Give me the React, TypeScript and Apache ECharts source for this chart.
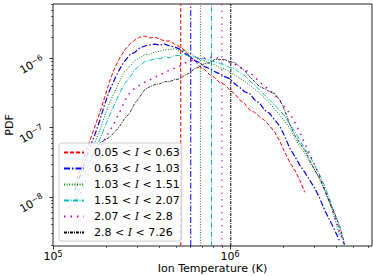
import React, { useEffect, useRef } from "react";
import * as echarts from "echarts";

// Ion temperature bins (K), shared by every curve
const temperatureK = [
  1.33e5, 1.42e5, 1.51e5, 1.61e5, 1.72e5, 1.84e5, 1.96e5, 2.09e5, 2.23e5, 2.38e5,
  2.54e5, 2.71e5, 2.9e5, 3.09e5, 3.3e5, 3.52e5, 3.76e5, 4.01e5, 4.28e5, 4.56e5,
  4.87e5, 5.2e5, 5.55e5, 5.92e5, 6.32e5, 6.74e5, 7.19e5, 7.68e5, 8.19e5, 8.74e5,
  9.33e5, 9.96e5, 1.063e6, 1.134e6, 1.211e6, 1.292e6, 1.379e6, 1.472e6, 1.57e6, 1.676e6,
  1.788e6, 1.909e6, 2.037e6, 2.175e6, 2.32e6, 2.477e6, 2.642e6, 2.82e6, 3.01e6, 3.212e6,
  3.428e6, 3.659e6, 3.904e6, 4.167e6, 4.446e6,
];

// PDF of ion temperature for each range of I
const pdfRange1 = [
  1.48e-8, 2.44e-8, 4.01e-8, 6.39e-8, 1.02e-7, 1.67e-7, 2.76e-7, 4.7e-7, 7.24e-7, 1.01e-6,
  1.32e-6, 1.61e-6, 1.84e-6, 2.03e-6, 2.1e-6, 1.97e-6, 2.03e-6, 1.9e-6, 1.78e-6, 1.78e-6,
  1.61e-6, 1.46e-6, 1.31e-6, 1.06e-6, 9.4e-7, 7.6e-7, 6.9e-7, 5.8e-7, 5.3e-7, 4.45e-7,
  4.2e-7, 3.5e-7, 3.1e-7, 2.52e-7, 2.23e-7, 1.8e-7, 1.66e-7, 1.43e-7, 1.27e-7, 1.06e-7,
  8.62e-8, 6.39e-8, 4.43e-8, 3.18e-8, 2.44e-8, 1.75e-8, 1.17e-8, null, null, null,
  null, null, null, null, null,
];
const pdfRange2 = [
  1.25e-8, 1.99e-8, 3.18e-8, 5.06e-8, 7.8e-8, 1.28e-7, 2.19e-7, 3.48e-7, 5.02e-7, 7.0e-7,
  9.14e-7, 1.12e-6, 1.23e-6, 1.41e-6, 1.51e-6, 1.56e-6, 1.61e-6, 1.56e-6, 1.61e-6, 1.51e-6,
  1.46e-6, 1.36e-6, 1.19e-6, 1.06e-6, 9.3e-7, 8.7e-7, 7.6e-7, 7.1e-7, 6.45e-7, 6.0e-7,
  5.45e-7, 5.1e-7, 4.3e-7, 3.8e-7, 3.3e-7, 3.1e-7, 2.52e-7, 2.24e-7, 1.8e-7, 1.6e-7,
  1.3e-7, 1.05e-7, 7.55e-8, 5.06e-8, 3.88e-8, 2.88e-8, 2.28e-8, 1.75e-8, 1.34e-8, 9.6e-9,
  6.44e-9, 4.61e-9, 3.31e-9, 2.29e-9, null,
];
const pdfRange3 = [
  1.06e-8, 1.63e-8, 2.6e-8, 4.01e-8, 5.98e-8, 9.22e-8, 1.47e-7, 2.34e-7, 3.26e-7, 4.7e-7,
  6.5e-7, 7.6e-7, 9.3e-7, 1.02e-6, 1.14e-6, 1.13e-6, 1.25e-6, 1.26e-6, 1.34e-6, 1.33e-6,
  1.38e-6, 1.3e-6, 1.29e-6, 1.17e-6, 1.09e-6, 9.6e-7, 9.3e-7, 8.4e-7, 8.1e-7, 7.35e-7,
  7.1e-7, 6.34e-7, 5.74e-7, 5.19e-7, 4.7e-7, 4.11e-7, 3.6e-7, 3.15e-7, 2.67e-7, 2.26e-7,
  1.85e-7, 1.52e-7, 1.24e-7, 9.85e-8, 7.06e-8, 5.41e-8, 4.29e-8, 3.18e-8, 2.44e-8, 1.75e-8,
  1.25e-8, 8.4e-9, 4.93e-9, 2.71e-9, null,
];
const pdfRange4 = [
  8.98e-9, 1.34e-8, 2.06e-8, 3.18e-8, 4.74e-8, 6.83e-8, 1.02e-7, 1.52e-7, 2.19e-7, 3.15e-7,
  4.35e-7, 5.25e-7, 6.9e-7, 7.85e-7, 9.0e-7, 9.3e-7, 9.95e-7, 9.9e-7, 1.06e-6, 1.02e-6,
  1.1e-6, 1.1e-6, 1.14e-6, 1.06e-6, 1.05e-6, 9.9e-7, 9.9e-7, 9.3e-7, 8.95e-7, 8.4e-7,
  8.1e-7, 7.35e-7, 7.1e-7, 6.2e-7, 5.65e-7, 4.75e-7, 4.11e-7, 3.48e-7, 2.95e-7, 2.5e-7,
  2.11e-7, 1.79e-7, 1.47e-7, 1.12e-7, 8.91e-8, 6.61e-8, 5.06e-8, 3.88e-8, 2.88e-8, 2.06e-8,
  1.43e-8, 9.29e-9, 5.63e-9, 3.31e-9, 1.94e-9,
];
const pdfRange5 = [
  7.6e-9, 1.06e-8, 1.58e-8, 2.44e-8, 3.63e-8, 5.23e-8, 6.83e-8, 8.91e-8, 1.2e-7, 1.67e-7,
  2.41e-7, 3.15e-7, 3.72e-7, 4.11e-7, 4.54e-7, 4.86e-7, 5.37e-7, 5.74e-7, 6.34e-7, 6.77e-7,
  7.24e-7, 7.74e-7, 8.55e-7, 9.14e-7, 9.77e-7, 1.01e-6, 1.01e-6, 1.04e-6, 1.01e-6, 1.01e-6,
  9.45e-7, 8.84e-7, 8.27e-7, 7.49e-7, 6.77e-7, 6.34e-7, 5.37e-7, 4.54e-7, 3.98e-7, 3.48e-7,
  2.95e-7, 2.5e-7, 1.98e-7, 1.62e-7, 1.2e-7, 8.62e-8, 5.98e-8, 4.15e-8, 2.88e-8, 1.99e-8,
  1.29e-8, 8.4e-9, 5.1e-9, 3.09e-9, 1.94e-9,
];
const pdfRange6 = [
  null, null, null, 3.18e-8, 4.74e-8, 5.98e-8, 6.61e-8, 7.3e-8, 8.62e-8, 1.05e-7,
  1.36e-7, 1.62e-7, 2.25e-7, 2.78e-7, 3.55e-7, 3.9e-7, 4.2e-7, 4.3e-7, 4.62e-7, 4.6e-7,
  4.95e-7, 5.05e-7, 5.7e-7, 6.2e-7, 7.15e-7, 7.55e-7, 8.45e-7, 8.65e-7, 9.65e-7, 9.6e-7,
  9.6e-7, 8.95e-7, 8.7e-7, 7.6e-7, 6.65e-7, 5.45e-7, 4.6e-7, 3.9e-7, 3.65e-7, 3.3e-7,
  3.1e-7, 2.52e-7, 1.79e-7, 1.12e-7, 7.8e-8, 5.98e-8, 4.74e-8, 3.4e-8, 2.44e-8, 1.87e-8,
  1.25e-8, 8.13e-9, 5.83e-9, 3.78e-9, 2.07e-9,
];

// Mean ion temperature of each range (vertical lines)
const meanTemperatureK = [5.27e5, 6.0e5, 6.8e5, 7.86e5, 9.0e5, 1.01e6];

const rangeLabels = [
  "0.05 < I < 0.63",
  "0.63 < I < 1.03",
  "1.03 < I < 1.51",
  "1.51 < I < 2.07",
  "2.07 < I < 2.8",
  "2.8 < I < 7.26",
];

const xMajorTicks = [1e5, 1e6];
const xMinorTicks = [2e5, 3e5, 4e5, 5e5, 6e5, 7e5, 8e5, 9e5, 2e6, 3e6, 4e6, 5e6, 6e6];
const yMajorTicks = [1e-8, 1e-7, 1e-6];
const yMinorTicks = [
  2e-9, 3e-9, 4e-9, 5e-9, 6e-9, 7e-9, 8e-9, 9e-9,
  2e-8, 3e-8, 4e-8, 5e-8, 6e-8, 7e-8, 8e-8, 9e-8,
  2e-7, 3e-7, 4e-7, 5e-7, 6e-7, 7e-7, 8e-7, 9e-7,
  2e-6, 3e-6, 4e-6, 5e-6, 6e-6,
];

const X_MIN = 1e5;
const X_MAX = 6.34e6;
const Y_MIN = 1.96e-9;
const Y_MAX = 6.1e-6;

const styles = [
  { color: "#ff0000", type: [4, 2], width: 1 },
  { color: "#0000ff", type: [6, 2, 1.5, 2], width: 1.2 },
  { color: "#008000", type: [1, 1.6], width: 1 },
  { color: "#00bfbf", type: [5, 1.5, 1, 1.5], width: 1 },
  { color: "#bf00bf", type: [1.5, 5], width: 1.5 },
  { color: "#000000", type: [3, 1, 1, 1], width: 0.8 },
];

const pdfSeries = [pdfRange1, pdfRange2, pdfRange3, pdfRange4, pdfRange5, pdfRange6];

const FONT = "DejaVu Sans";

function powerLabel(v: number): string {
  const e = Math.round(Math.log10(v));
  const exp = e < 0 ? "\u2212" + -e : String(e);
  return `{b|10}{s|${exp}}`;
}

const powerRich = {
  b: { fontFamily: FONT, fontSize: 11, color: "#000", lineHeight: 12 },
  s: { fontFamily: FONT, fontSize: 8, color: "#000", lineHeight: 4, verticalAlign: "top" },
};

function buildOption() {
  const curves = pdfSeries.map((values, i) => {
    const data: [number, number][] = [];
    values.forEach((v, j) => {
      if (v != null && j < temperatureK.length) data.push([temperatureK[j], v]);
    });
    const st = styles[i];
    return {
      name: rangeLabels[i],
      type: "line",
      xAxisIndex: 0,
      yAxisIndex: 0,
      data,
      showSymbol: false,
      symbol: "none",
      color: st.color,
      lineStyle: { color: st.color, type: st.type, width: st.width },
      itemStyle: { color: st.color },
      emphasis: { disabled: true },
      z: 3,
    };
  });

  // Mean temperature of each range, spanning the full height of the plot
  const meanLines = meanTemperatureK.map((t, i) => {
    const st = styles[i];
    return {
      name: rangeLabels[i] + " mean",
      type: "line",
      xAxisIndex: 0,
      yAxisIndex: 0,
      data: [
        [t, Y_MIN],
        [t, Y_MAX],
      ],
      showSymbol: false,
      symbol: "none",
      color: st.color,
      lineStyle: { color: st.color, type: st.type, width: 1 },
      emphasis: { disabled: true },
      silent: true,
      z: 2,
    };
  });

  const xBase = {
    type: "log",
    logBase: 10,
    min: X_MIN,
    max: X_MAX,
    gridIndex: 0,
    position: "bottom",
    axisLine: { show: false },
    splitLine: { show: false },
  };
  const yBase = {
    type: "log",
    logBase: 10,
    min: Y_MIN,
    max: Y_MAX,
    gridIndex: 0,
    position: "left",
    axisLine: { show: false },
    splitLine: { show: false },
  };

  return {
    animation: false,
    backgroundColor: "#ffffff",
    grid: {
      left: 53,
      right: 1,
      top: 4,
      bottom: 30,
      containLabel: false,
      outerBoundsMode: "none",
      show: true,
      borderColor: "#222",
      borderWidth: 1,
      backgroundColor: "transparent",
    },
    xAxis: [
      {
        ...xBase,
        name: "Ion Temperature (K)",
        nameLocation: "middle",
        nameGap: 17,
        nameMoveOverlap: false,
        nameTextStyle: { fontFamily: FONT, fontSize: 11, color: "#000" },
        axisTick: {
          show: true,
          customValues: xMajorTicks,
          length: 3.5,
          lineStyle: { color: "#000", width: 0.8 },
        },
        axisLabel: {
          show: true,
          customValues: xMajorTicks,
          margin: 4,
          formatter: powerLabel,
          rich: powerRich,
        },
      },
      {
        ...xBase,
        axisTick: {
          show: true,
          customValues: xMinorTicks,
          length: 2,
          lineStyle: { color: "#000", width: 0.6 },
        },
        axisLabel: { show: false },
      },
    ],
    yAxis: [
      {
        ...yBase,
        name: "PDF",
        nameLocation: "middle",
        nameGap: 38,
        nameRotate: 90,
        nameMoveOverlap: false,
        nameTextStyle: { fontFamily: FONT, fontSize: 11, color: "#000" },
        axisTick: {
          show: true,
          customValues: yMajorTicks,
          length: 3.5,
          lineStyle: { color: "#000", width: 0.8 },
        },
        axisLabel: {
          show: true,
          customValues: yMajorTicks,
          margin: 10,
          rotate: 30,
          formatter: powerLabel,
          rich: powerRich,
        },
      },
      {
        ...yBase,
        axisTick: {
          show: true,
          customValues: yMinorTicks,
          length: 2,
          lineStyle: { color: "#000", width: 0.6 },
        },
        axisLabel: { show: false },
      },
    ],
    legend: {
      orient: "vertical",
      left: 59,
      top: 143,
      itemWidth: 20,
      itemHeight: 10,
      itemGap: 5,
      padding: [4, 2, 3, 4],
      backgroundColor: "rgba(255,255,255,0.8)",
      borderColor: "#cccccc",
      borderWidth: 1,
      borderRadius: 3,
      selectedMode: false,
      itemStyle: { opacity: 0 },
      data: rangeLabels,
      formatter: (name: string) => name.replace(" I ", " {i|I} "),
      textStyle: {
        fontFamily: FONT,
        fontSize: 11,
        color: "#000",
        padding: [0, 0, 0, 5],
        rich: {
          i: { fontFamily: "DejaVu Serif", fontStyle: "italic", fontSize: 11, color: "#000" },
        },
      },
    },
    series: [...meanLines, ...curves],
  };
}

export default function App() {
  const ref = useRef<HTMLDivElement>(null);
  useEffect(() => {
    if (!ref.current) return;
    const chart = echarts.init(ref.current, null, { renderer: "svg" });
    chart.setOption(buildOption() as any);
    return () => chart.dispose();
  }, []);
  return (
    <div
      ref={ref}
      style={{ position: "absolute", left: 0, top: 0, width: 373, height: 276 }}
    />
  );
}
